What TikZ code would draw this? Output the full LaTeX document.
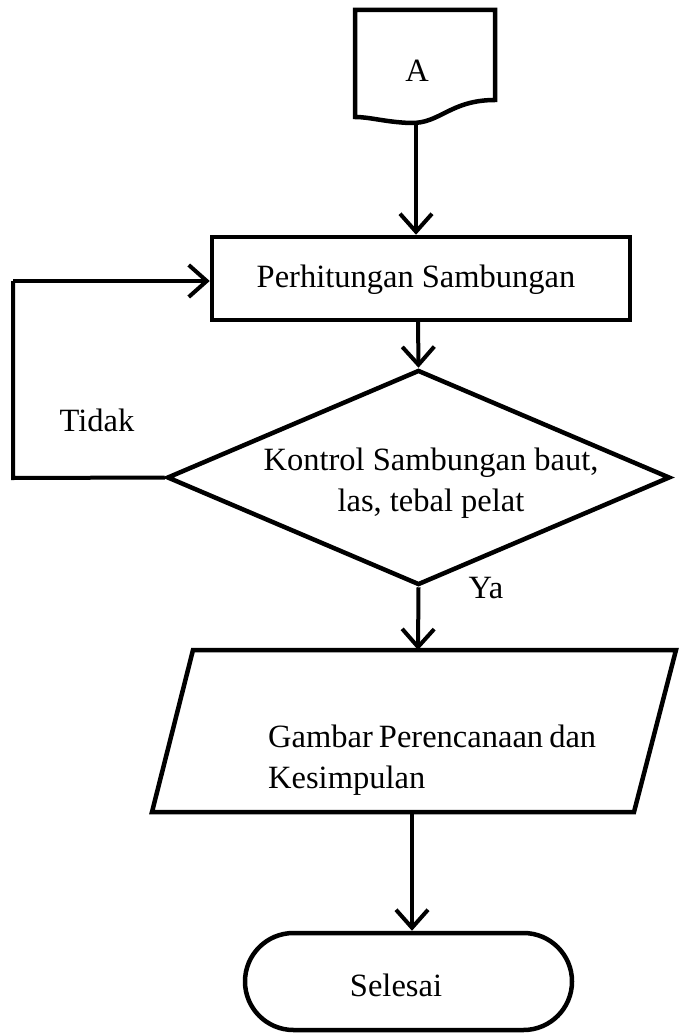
\documentclass[tikz,border=0pt]{standalone}
\usepackage{fontspec}
\setmainfont{Liberation Serif}
\usetikzlibrary{shapes.geometric,shapes.misc,arrows.meta}
\begin{document}
\begin{tikzpicture}[x=1pt,y=-1pt,
  every node/.style={font=\fontsize{32.5}{41}\selectfont},
  shp/.style={draw, line width=4.5pt, line join=miter},
  ln/.style={line width=4pt},
  arr/.style={ln, -{Straight Barb[length=18pt,width=32pt,line width=4pt]}}]
\useasboundingbox (0,0) rectangle (682,1035);
% document connector A
\draw[shp] (355,10) -- (495,10) -- (495,100)
  .. controls (450,100) and (440,124) .. (410,123)
  .. controls (385,122) and (370,117) .. (355,117) -- cycle;
\node (A) at (417,71) {A};
\coordinate (docbot) at (416,121);
% process box
\node[shp, minimum width=418pt, minimum height=83pt, inner sep=0pt] (proc) at (421,278.5) {};
\node (proct) at (416,280) {Perhitungan Sambungan};
% decision
\node[shp, diamond, minimum width=503pt, minimum height=215pt, inner sep=0pt] (dec) at (418.5,477.5) {};
\node[align=center] (dect) at (431,483) {Kontrol Sambungan baut,\\las, tebal pelat};
\node (ya) at (486,588) {Ya};
\node (tidak) at (97,420) {Tidak};
% parallelogram
\coordinate (p1) at (193,650);
\coordinate (p2) at (676,650);
\coordinate (p3) at (634,812);
\coordinate (p4) at (152,812);
\draw[shp] (p1) -- (p2) -- (p3) -- (p4) -- cycle;
\coordinate (ptop) at (418,650);
\coordinate (pbot) at (412,812);
\node[anchor=west, align=left, inner sep=0pt] (out) at (268,760)
  {\hbox to 328pt{Gambar\hfil Perencanaan\hfil dan}\\Kesimpulan};
% terminator
\node[shp, rounded rectangle, minimum width=327pt, minimum height=97pt, inner sep=0pt] (end) at (408.5,981.5) {};
\node (endt) at (396,985) {Selesai};
% connectors
\draw[arr] (docbot) -- (docbot |- proc.north);
\draw[arr] (418,320) -- (dec.north);
\coordinate (lp1) at (13,478);
\coordinate (lp2) at (13,281);
\draw[ln] (dec.west) -- (lp1) -- (lp2);
\draw[arr] (lp2) -- (proc.west |- lp2);
\draw[arr] (dec.south) -- (ptop);
\draw[arr] (pbot) -- (pbot |- end.north);
\end{tikzpicture}
\end{document}
